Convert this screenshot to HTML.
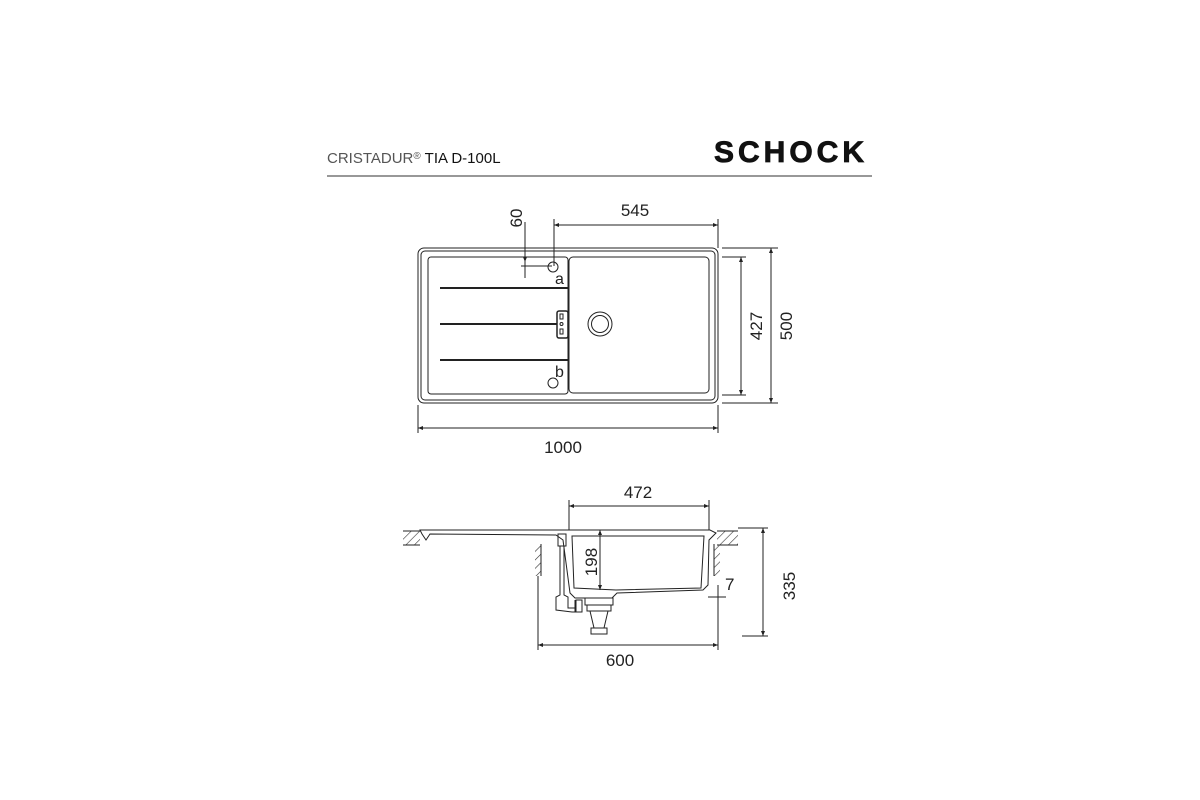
<!DOCTYPE html>
<html><head><meta charset="utf-8"><style>
html,body{margin:0;padding:0;background:#fff;}
svg{display:block;}
text{font-family:"Liberation Sans",sans-serif;}
</style></head><body>
<svg width="1200" height="800" viewBox="0 0 1200 800" xmlns="http://www.w3.org/2000/svg">
<defs>
<marker id="ar" viewBox="0 0 10 10" refX="10" refY="5" markerWidth="8" markerHeight="5" orient="auto-start-reverse"><path d="M0,1 L10,5 L0,9 z" fill="#222"/></marker>
<pattern id="hatch" width="6" height="6" patternUnits="userSpaceOnUse" patternTransform="rotate(45)"><line x1="0" y1="0" x2="0" y2="6" stroke="#333" stroke-width="1.2"/></pattern>
</defs>
<!-- header -->
<text x="327" y="163" font-size="15" fill="#555">CRISTADUR<tspan font-size="10" dy="-4">®</tspan><tspan dy="4" fill="#111"> TIA D-100L</tspan></text>
<text x="714" y="162" font-size="30" font-weight="bold" fill="#111" letter-spacing="4" stroke="#111" stroke-width="0.8">SCHOCK</text>
<line x1="327" y1="176" x2="872" y2="176" stroke="#777" stroke-width="1.5"/>

<g fill="none" stroke="#222" stroke-width="1">
<!-- top view -->
<rect x="418" y="248" width="300" height="155" rx="6"/>
<rect x="421" y="251" width="294" height="149" rx="4"/>
<rect x="428" y="257" width="140" height="137" rx="3"/>
<rect x="569" y="257" width="140" height="136" rx="4"/>
<line x1="440" y1="288" x2="568" y2="288" stroke-width="2"/>
<line x1="440" y1="324" x2="557" y2="324" stroke-width="2"/>
<line x1="440" y1="360" x2="568" y2="360" stroke-width="2"/>
<rect x="557" y="311" width="11" height="27" rx="2" stroke-width="1.5"/>
<rect x="560" y="314" width="3" height="5"/><circle cx="561.5" cy="324" r="1.5"/><rect x="560" y="329" width="3" height="5"/>
<circle cx="553" cy="267" r="5"/>
<circle cx="553" cy="383" r="5"/>
<circle cx="600" cy="324" r="12"/>
<circle cx="600" cy="324" r="8.5"/>
<!-- dims top -->
<line x1="554" y1="219" x2="554" y2="266"/>
<line x1="718" y1="219" x2="718" y2="248"/>
<line x1="554" y1="225" x2="718" y2="225" marker-start="url(#ar)" marker-end="url(#ar)"/>
<line x1="525" y1="222" x2="525" y2="278"/>
<line x1="525" y1="240" x2="525" y2="262" marker-end="url(#ar)"/>
<line x1="521" y1="266" x2="552" y2="266"/>
<line x1="722" y1="248" x2="778" y2="248"/>
<line x1="722" y1="403" x2="778" y2="403"/>
<line x1="722" y1="257" x2="746" y2="257"/>
<line x1="722" y1="395" x2="746" y2="395"/>
<line x1="741" y1="257" x2="741" y2="395" marker-start="url(#ar)" marker-end="url(#ar)"/>
<line x1="771" y1="248" x2="771" y2="403" marker-start="url(#ar)" marker-end="url(#ar)"/>
<line x1="418" y1="405" x2="418" y2="433"/>
<line x1="718" y1="405" x2="718" y2="433"/>
<line x1="418" y1="428" x2="718" y2="428" marker-start="url(#ar)" marker-end="url(#ar)"/>

<!-- side view -->
<rect x="403" y="531" width="17" height="14" fill="url(#hatch)" stroke="none"/>
<line x1="403" y1="531" x2="420" y2="531"/><line x1="403" y1="545" x2="420" y2="545"/>
<rect x="717" y="531" width="21" height="14" fill="url(#hatch)" stroke="none"/>
<line x1="717" y1="531" x2="738" y2="531"/><line x1="717" y1="545" x2="738" y2="545"/>
<rect x="535" y="544" width="6" height="32" fill="url(#hatch)" stroke="none"/>
<line x1="541" y1="544" x2="541" y2="576"/>
<rect x="714" y="544" width="6" height="32" fill="url(#hatch)" stroke="none"/>
<line x1="714" y1="544" x2="714" y2="576"/>
<path d="M420,530 L570,530 L710,530 L716,533 L709,540 L708,585 L703,590 L617,593 L612,598 L575,598 L570,593 L563,540 L556,535 L430,534 L426,540 L422,534 Z"/>
<path d="M572,536 L704,536 L701,588 L616,590 L574,588 Z"/>
<path d="M558,534 L566,534 L566,546 L558,546 Z"/>
<path d="M560,546 L560,595 L556,597 L556,610 L572,612 L575,612 L575,600"/>
<path d="M564,546 L564,595 L568,597 L568,608 L575,608"/>
<rect x="576" y="600" width="6" height="12"/>
<rect x="585" y="598" width="28" height="7"/>
<rect x="587" y="605" width="24" height="6"/>
<path d="M590,611 L608,611 L604,628 L594,628 Z"/>
<rect x="591" y="628" width="16" height="6"/>
<!-- dims side -->
<line x1="569" y1="500" x2="569" y2="530"/>
<line x1="709" y1="500" x2="709" y2="530"/>
<line x1="569" y1="506" x2="709" y2="506" marker-start="url(#ar)" marker-end="url(#ar)"/>
<line x1="600" y1="530" x2="600" y2="590" marker-start="url(#ar)" marker-end="url(#ar)"/>
<line x1="738" y1="528" x2="768" y2="528"/>
<line x1="742" y1="636" x2="768" y2="636"/>
<line x1="763" y1="528" x2="763" y2="636" marker-start="url(#ar)" marker-end="url(#ar)"/>
<line x1="708" y1="597" x2="726" y2="597"/>
<line x1="718" y1="585" x2="718" y2="650"/>
<line x1="538" y1="576" x2="538" y2="650"/>
<line x1="538" y1="645" x2="718" y2="645" marker-start="url(#ar)" marker-end="url(#ar)"/>
</g>

<g font-size="17" fill="#222">
<text x="635" y="216" text-anchor="middle">545</text>
<text transform="translate(522,218) rotate(-90)" text-anchor="middle">60</text>
<text x="555" y="284" font-size="16">a</text>
<text x="555" y="377" font-size="16">b</text>
<text transform="translate(762,326) rotate(-90)" text-anchor="middle">427</text>
<text transform="translate(792,326) rotate(-90)" text-anchor="middle">500</text>
<text x="563" y="453" text-anchor="middle">1000</text>
<text x="638" y="498" text-anchor="middle">472</text>
<text transform="translate(597,562) rotate(-90)" text-anchor="middle">198</text>
<text x="725" y="590">7</text>
<text transform="translate(795,586) rotate(-90)" text-anchor="middle">335</text>
<text x="620" y="666" text-anchor="middle">600</text>
</g>
</svg>
</body></html>
